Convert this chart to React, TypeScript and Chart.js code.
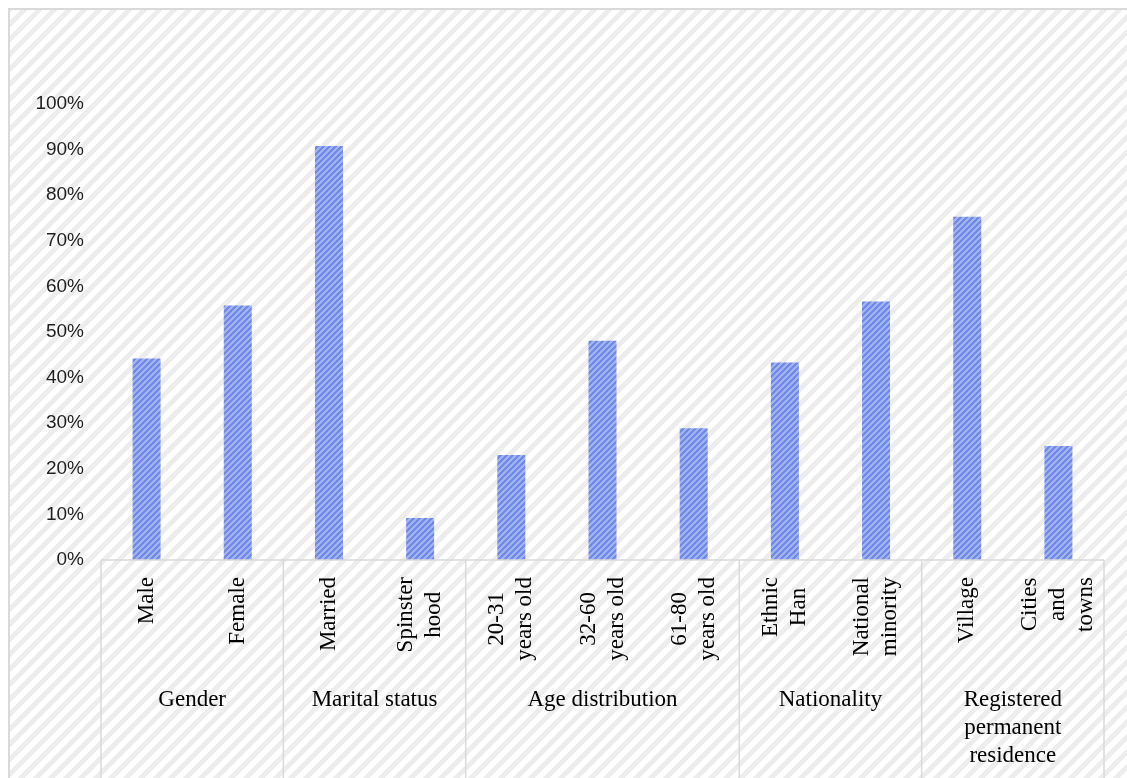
import React, { useEffect, useRef } from "react";
import { Chart, registerables } from "chart.js";

Chart.register(...registerables);

// ---- data ----
const categoryLines: string[][] = [
  ["Male"],
  ["Female"],
  ["Married"],
  ["Spinster", "hood"],
  ["20-31", "years old"],
  ["32-60", "years old"],
  ["61-80", "years old"],
  ["Ethnic", "Han"],
  ["National", "minority"],
  ["Village"],
  ["Cities", "and", "towns"],
];
const shares = [0.442, 0.558, 0.908, 0.092, 0.23, 0.481, 0.289, 0.433, 0.567, 0.753, 0.25];
const groupLines: string[][] = [
  ["Gender"],
  ["Marital status"],
  ["Age distribution"],
  ["Nationality"],
  ["Registered", "permanent", "residence"],
];
const groupSizes = [2, 2, 3, 2, 2];
const yTickValues = [0, 0.1, 0.2, 0.3, 0.4, 0.5, 0.6, 0.7, 0.8, 0.9, 1];

const W = 1127;
const H = 778;
const SERIF = "'Liberation Serif', 'Times New Roman', serif";
const SANS = "'Liberation Sans', Arial, sans-serif";

function makeTile(n: number, on: number, c1: string, c2: string): HTMLCanvasElement {
  const t = document.createElement("canvas");
  t.width = n;
  t.height = n;
  const c = t.getContext("2d")!;
  for (let x = 0; x < n; x++) {
    for (let y = 0; y < n; y++) {
      c.fillStyle = (x + y) % n < on ? c1 : c2;
      c.fillRect(x, y, 1, 1);
    }
  }
  return t;
}

const decorPlugin = {
  id: "decor",
  beforeDraw(chart: any) {
    const ctx = chart.ctx as CanvasRenderingContext2D;
    ctx.save();
    ctx.fillStyle = "#ffffff";
    ctx.fillRect(0, 0, W, H);
    const pat = ctx.createPattern(makeTile(15, 7, "#ededed", "#ffffff"), "repeat")!;
    ctx.fillStyle = pat;
    ctx.fillRect(9, 9, W - 9, H - 9);
    ctx.strokeStyle = "#d9d9d9";
    ctx.lineWidth = 2;
    ctx.beginPath();
    ctx.moveTo(9, H);
    ctx.lineTo(9, 9);
    ctx.lineTo(W, 9);
    ctx.stroke();
    ctx.restore();
  },
  afterDraw(chart: any) {
    const ctx = chart.ctx as CanvasRenderingContext2D;
    const xs = chart.scales.x;
    const area = chart.chartArea;
    const step = (area.right - area.left) / categoryLines.length;
    const base = area.bottom;
    ctx.save();
    // axis line + group separators
    ctx.strokeStyle = "#d9d9d9";
    ctx.lineWidth = 1.5;
    ctx.beginPath();
    ctx.moveTo(area.left, base);
    ctx.lineTo(area.right, base);
    let idx = 0;
    const bounds: number[] = [area.left];
    ctx.moveTo(area.left, base);
    ctx.lineTo(area.left, H);
    groupSizes.forEach((s) => {
      idx += s;
      const x = xs.getPixelForValue(idx - 1) + step / 2;
      bounds.push(x);
      ctx.moveTo(x, base);
      ctx.lineTo(x, H);
    });
    ctx.stroke();

    // rotated category labels
    ctx.fillStyle = "#000000";
    ctx.font = `23px ${SERIF}`;
    ctx.textBaseline = "middle";
    ctx.textAlign = "center";
    const lineGap = 28;
    categoryLines.forEach((lines, i) => {
      const cx = xs.getPixelForValue(i);
      const maxLen = Math.max(...lines.map((l) => ctx.measureText(l).width));
      const cy = base + 17 + maxLen / 2;
      lines.forEach((l, j) => {
        const off = (j - (lines.length - 1) / 2) * lineGap;
        ctx.save();
        ctx.translate(cx + off, cy);
        ctx.rotate(-Math.PI / 2);
        ctx.fillText(l, 0, 0);
        ctx.restore();
      });
    });

    // group labels
    groupLines.forEach((lines, g) => {
      const cx = (bounds[g] + bounds[g + 1]) / 2;
      lines.forEach((l, j) => {
        ctx.fillText(l, cx, 700 + j * 28);
      });
    });
    ctx.restore();
  },
};

export default function App() {
  const ref = useRef<HTMLCanvasElement | null>(null);
  useEffect(() => {
    if (!ref.current) return;
    const barPattern = ref.current
      .getContext("2d")!
      .createPattern(makeTile(6, 3, "#6f89e9", "#a2b3f2"), "repeat")!;
    const chart = new Chart(ref.current, {
      type: "bar",
      data: {
        labels: categoryLines.map((l) => l.join(" ")),
        datasets: [
          {
            data: shares,
            backgroundColor: barPattern as any,
            borderWidth: 0,
            barPercentage: 0.307,
            categoryPercentage: 1,
          },
        ],
      },
      options: {
        responsive: false,
        animation: false,
        devicePixelRatio: 1,
        layout: { padding: { top: 104, right: 23, left: 0, bottom: 0 } },
        plugins: { legend: { display: false }, tooltip: { enabled: false } },
        scales: {
          x: {
            grid: { display: false },
            border: { display: false },
            ticks: { display: false },
            afterFit: (s: any) => {
              s.height = 218;
            },
          },
          y: {
            min: 0,
            max: 1,
            afterBuildTicks: (s: any) => {
              s.ticks = yTickValues.map((v) => ({ value: v }));
            },
            afterFit: (s: any) => {
              s.width = 101;
            },
            grid: { display: false, drawTicks: false },
            border: { display: false },
            ticks: {
              padding: 17,
              color: "#1f1f1f",
              font: { family: SANS, size: 19 },
              callback: (v: any) => `${Math.round(Number(v) * 100)}%`,
            },
          },
        },
      },
      plugins: [decorPlugin],
    });
    return () => chart.destroy();
  }, []);
  return (
    <div style={{ position: "fixed", left: 0, top: 0, width: W, height: H }}>
      <canvas ref={ref} width={W} height={H} style={{ width: W, height: H, display: "block" }} />
    </div>
  );
}
